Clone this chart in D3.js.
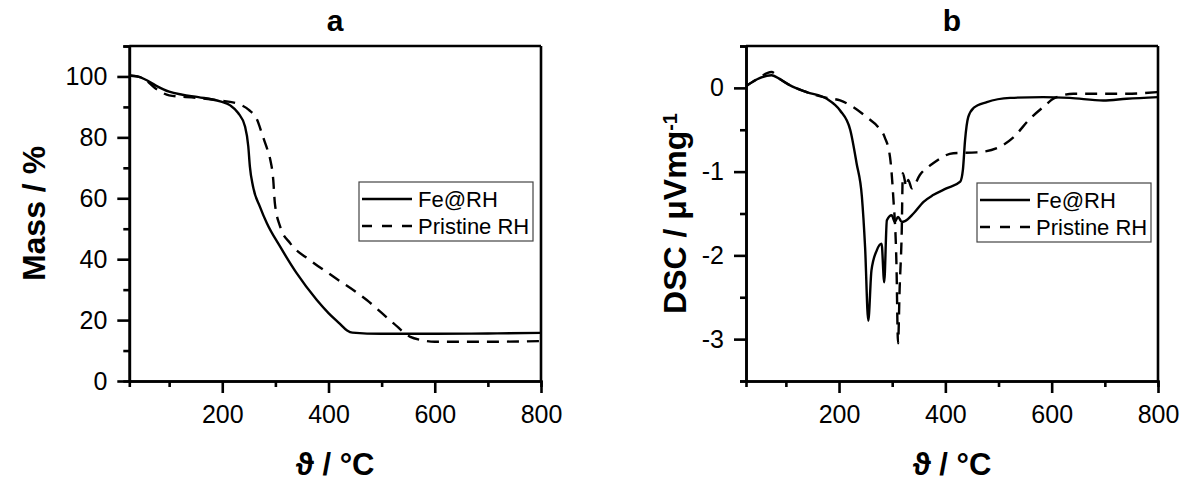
<!DOCTYPE html>
<html>
<head>
<meta charset="utf-8">
<script src="https://cdn.jsdelivr.net/npm/d3@7"></script>
<style>
  html, body { margin: 0; padding: 0; background: #fff; }
  svg { display: block; }
  text { font-family: "Liberation Sans", Arial, sans-serif; fill: #000; }
</style>
</head>
<body>
<svg id="chart" width="1184" height="483"></svg>
<script>
// ---------- Data ----------
const seriesNames = ["Fe@RH", "Pristine RH"];
const panelTitles = ["a", "b"];

// Panel a: TG mass (%)
const tgTempFe = [25, 40, 55, 75, 100, 125, 155, 196, 215, 230, 243, 249, 252, 258, 271, 284, 309, 340, 378, 400, 420, 435, 445, 500, 600, 700, 800];
const tgMassFe = [100.3, 100, 99, 97, 95, 94, 93.2, 91.8, 90.5, 88, 83.5, 77, 70.4, 63.8, 57.2, 51.8, 44.1, 35.4, 26.6, 22.3, 19, 16.6, 15.9, 15.5, 15.5, 15.6, 15.8];
const tgTempRH = [25, 50, 75, 100, 150, 200, 230, 250, 265, 277, 285, 290, 296, 299, 309, 328, 365, 409, 472, 522, 554, 573, 600, 700, 800];
const tgMassRH = [100.3, 99.5, 96, 93.8, 93, 92, 91, 89, 86, 80, 76, 73, 66, 58.4, 50.7, 45.2, 39.7, 34.3, 26.6, 19, 14.5, 13.5, 12.9, 12.9, 13.1];

// Panel b: DSC (µV/mg)
const dscTempFe = [25, 45, 73, 90, 108, 139, 177, 202, 221, 233, 243, 249, 255, 261, 271, 280, 285, 290, 299, 305, 311, 318, 324, 340, 359, 377, 402, 428, 433, 437, 443, 453, 478, 522, 584, 634, 697, 741, 800];
const dscValFe  = [0.02, 0.1, 0.15, 0.1, 0.03, -0.05, -0.13, -0.27, -0.5, -0.9, -1.3, -1.9, -2.78, -2.18, -1.94, -1.86, -2.32, -1.58, -1.52, -1.6, -1.54, -1.6, -1.59, -1.5, -1.36, -1.28, -1.2, -1.12, -0.98, -0.63, -0.35, -0.24, -0.17, -0.12, -0.11, -0.12, -0.15, -0.13, -0.11];
const dscTempRH = [25, 45, 73, 90, 108, 139, 177, 202, 227, 252, 275, 286, 296, 302, 308, 311, 314, 318, 320, 327, 330, 337, 352, 377, 415, 459, 497, 528, 559, 584, 606, 641, 741, 800];
const dscValRH  = [0.02, 0.1, 0.19, 0.1, 0.03, -0.05, -0.12, -0.15, -0.23, -0.35, -0.48, -0.59, -0.83, -1.3, -2.1, -3.05, -2.4, -1.7, -1.02, -1.18, -1.1, -1.2, -1.04, -0.9, -0.78, -0.77, -0.72, -0.59, -0.37, -0.23, -0.12, -0.07, -0.07, -0.05];

// Axis ticks
const xMajorTicks = [200, 400, 600, 800];
const xMinorTicks = [100, 300, 500, 700];
const tgMajorTicks = [0, 20, 40, 60, 80, 100];
const tgMinorTicks = [10, 30, 50, 70, 90, 110];
const dscMajorTicks = [-3, -2, -1, 0];
const dscMinorTicks = [-3.5, -2.5, -1.5, -0.5, 0.5];

// ---------- Drawing ----------
const svg = d3.select("#chart");
const plotTop = 46, plotBottom = 381;
const AXW = 2.6;

function zip(xs, ys) { return xs.map((x, i) => [x, ys[i]]); }

function drawPanel(opt) {
  const x = d3.scaleLinear().domain([25, 800]).range([opt.left, opt.right]);
  const y = d3.scaleLinear().domain(opt.yDomain).range([plotBottom, plotTop]);
  const g = svg.append("g");

  const clipId = "clip" + opt.id;
  svg.append("clipPath").attr("id", clipId).append("rect")
    .attr("x", opt.left).attr("y", plotTop).attr("width", opt.right - opt.left).attr("height", plotBottom - plotTop);

  const line = d3.line().x(d => x(d[0])).y(d => y(d[1])).curve(d3.curveMonotoneX);

  g.append("path").datum(zip(opt.xs[0], opt.ys[0]))
    .attr("clip-path", `url(#${clipId})`)
    .attr("d", line).attr("fill", "none").attr("stroke", "#000").attr("stroke-width", 2.4)
    .attr("stroke-linejoin", "round");
  g.append("path").datum(zip(opt.xs[1], opt.ys[1]))
    .attr("clip-path", `url(#${clipId})`)
    .attr("d", line).attr("fill", "none").attr("stroke", "#000").attr("stroke-width", 2.4)
    .attr("stroke-dasharray", "12,8");

  // Frame (top & right)
  g.append("line").attr("x1", opt.left).attr("x2", opt.right).attr("y1", plotTop).attr("y2", plotTop)
    .attr("stroke", "#000").attr("stroke-width", AXW);
  g.append("line").attr("x1", opt.right).attr("x2", opt.right).attr("y1", plotTop).attr("y2", plotBottom)
    .attr("stroke", "#000").attr("stroke-width", AXW);

  // Axes
  const styleAxis = sel => {
    sel.select(".domain").attr("stroke", "#000").attr("stroke-width", AXW);
    sel.selectAll(".tick line").attr("stroke", "#000").attr("stroke-width", AXW);
    sel.selectAll("text").style("font-family", "'Liberation Sans', Arial, sans-serif")
      .style("font-size", "25px").attr("fill", "#000");
  };

  g.append("g").attr("transform", `translate(0,${plotBottom})`)
    .call(d3.axisBottom(x).tickValues(xMinorTicks).tickSize(6).tickFormat(""))
    .call(styleAxis);
  g.append("g").attr("transform", `translate(0,${plotBottom})`)
    .call(d3.axisBottom(x).tickValues(xMajorTicks).tickSize(12).tickPadding(12).tickSizeOuter(0).tickFormat(d => d))
    .call(styleAxis);

  g.append("g").attr("transform", `translate(${opt.left},0)`)
    .call(d3.axisLeft(y).tickValues(opt.minor).tickSize(6).tickFormat(""))
    .call(styleAxis);
  g.append("g").attr("transform", `translate(${opt.left},0)`)
    .call(d3.axisLeft(y).tickValues(opt.major).tickSize(12).tickPadding(10).tickSizeOuter(0).tickFormat(d => String(d)))
    .call(styleAxis);

  // Title
  svg.append("text").attr("x", (opt.left + opt.right) / 2).attr("y", 31)
    .attr("text-anchor", "middle").style("font-size", "30px").style("font-weight", "bold")
    .text(opt.title);

  // X axis label
  svg.append("text").attr("x", (opt.left + opt.right) / 2).attr("y", 475)
    .attr("text-anchor", "middle").style("font-size", "31px").style("font-weight", "bold")
    .text("\u03D1 / \u00B0C");

  // Y axis label
  const yl = svg.append("text")
    .attr("transform", `translate(${opt.ylabelX},${(plotTop + plotBottom) / 2}) rotate(-90)`)
    .attr("text-anchor", "middle").style("font-size", "32px").style("font-weight", "bold");
  if (opt.id === "a") {
    yl.text("Mass / %");
  } else {
    yl.append("tspan").text("DSC / \u03BCVmg");
    yl.append("tspan").attr("dy", "-0.45em").style("font-size", "20px").text("-1");
  }

  // Legend
  const lg = svg.append("g").attr("transform", `translate(${opt.legX},${opt.legY})`);
  lg.append("rect").attr("x", 0).attr("y", 0).attr("width", 174).attr("height", 59)
    .attr("fill", "#fff").attr("stroke", "#444").attr("stroke-width", 1.2);
  const rows = [{ y: 17, dash: null }, { y: 44, dash: "10,10" }];
  rows.forEach((r, i) => {
    lg.append("line").attr("x1", 3).attr("x2", 53).attr("y1", r.y).attr("y2", r.y)
      .attr("stroke", "#000").attr("stroke-width", 2.4)
      .attr("stroke-dasharray", r.dash);
    lg.append("text").attr("x", 59).attr("y", r.y + 7.5)
      .style("font-size", "22px").text(seriesNames[i]);
  });
}

drawPanel({
  id: "a", left: 129.3, right: 541, yDomain: [0, 110],
  major: tgMajorTicks, minor: tgMinorTicks,
  xs: [tgTempFe, tgTempRH], ys: [tgMassFe, tgMassRH],
  title: panelTitles[0], ylabelX: 45, legX: 359, legY: 182
});
drawPanel({
  id: "b", left: 746, right: 1158, yDomain: [-3.5, 0.5],
  major: dscMajorTicks, minor: dscMinorTicks,
  xs: [dscTempFe, dscTempRH], ys: [dscValFe, dscValRH],
  title: panelTitles[1], ylabelX: 686, legX: 977, legY: 183
});
</script>
</body>
</html>
